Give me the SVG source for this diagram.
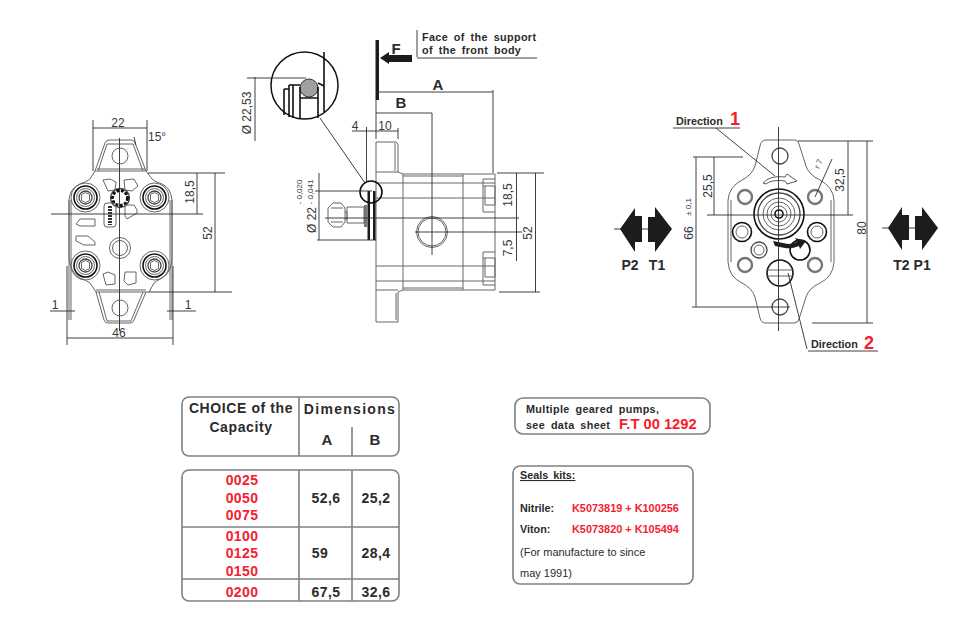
<svg xmlns="http://www.w3.org/2000/svg" xmlns:xlink="http://www.w3.org/1999/xlink" width="960" height="626" viewBox="0 0 960 626">
<style>
text{font-family:"Liberation Sans",Arial,sans-serif;fill:#2b2b2b}
.d{font-size:12px;fill:#33383f}
.b{font-weight:bold}
.r{fill:#f5202f;font-weight:bold}
.o{fill:none;stroke:#666;stroke-width:1}
.o2{fill:none;stroke:#444;stroke-width:1.3}
.h{fill:none;stroke:#777;stroke-width:2.4}
.l{fill:none;stroke:#2a2a2a;stroke-width:.9}
.k{fill:none;stroke:#111;stroke-width:1.6}
.t{fill:none;stroke:#808080;stroke-width:1.6}
.f{fill:#1c1c1c;stroke:none}
.tb{font-size:14px;font-weight:bold;text-anchor:middle;letter-spacing:.4px}
.tr{font-size:14px;font-weight:bold;text-anchor:middle;letter-spacing:.4px;fill:#f5202f}
.s{font-size:10.800px;font-weight:bold}
.w{font-size:10.800px;font-weight:bold;word-spacing:2.500px;letter-spacing:.35px}
.p{font-size:14px;font-weight:bold}
</style>
<defs>
<g id="bolt"><circle r="14.500" class="o"/><circle r="11.500" class="k"/><circle r="9" class="o"/><circle r="6.500" class="o2"/><path class="o" d="M-4-3 0-5 4-3V3L0 5-4 3Z"/></g>
</defs>

<g id="front-view">
<path class="o" d="M95 171 105 143Q106 140 109 140H131Q134 140 135 143L146 171"/>
<path class="o" d="M98 171 107 144H133L143 171M95 171H146M97 169H145"/>
<path class="o" d="M95 171 90 179Q86 182 80 184 70 188 69 200V258Q70 272 80 278 86 280 90 283L96 292H149L154 283Q158 280 162 278 172 272 172 258V200Q171 188 162 184 155 182 152 179L146 171"/>
<path class="o" d="M69 200V320M71 200V320M172 200V320M170 200V320"/>
<path class="o" d="M96 292 104 320Q105 323 108 323H130Q133 323 134 320L146 292M99 292 107 321H131L143 292M96 290H146"/>
<circle cx="120" cy="156" r="8" class="o"/><circle cx="120" cy="308" r="8" class="o"/>
<circle cx="120" cy="248" r="10.500" class="o"/><circle cx="120" cy="248" r="7.500" class="o"/>
<use xlink:href="#bolt" x="85.500" y="197.500"/><use xlink:href="#bolt" x="154.500" y="197.500"/>
<use xlink:href="#bolt" x="85.500" y="265.500"/><use xlink:href="#bolt" x="154.500" y="265.500"/>
<circle cx="120" cy="198" r="9.500" class="o2"/>
<circle cx="120" cy="198" r="7.500" fill="none" stroke="#111" stroke-width="3" stroke-dasharray="3 1.500"/>
<rect x="104" y="203" width="12" height="24" rx="3" class="o"/><path d="M110 206V225" stroke="#333" stroke-width="4" stroke-dasharray="2 1"/>
<path class="o" d="M103 180 110 179 116 182 115 190 108 191ZM124 180 134 179 138 186 132 191 125 190ZM125 272H136V283L128 285 124 281ZM103 274 108 272 115 275 115 284 106 285Z"/>
<path class="o" d="M76 224 80 219H95V226H80ZM76 236H88L95 242V245H84L76 241ZM125 205H134L137 210V213L127 219 125 216Z"/>
<path class="l" d="M119.500 138V331M51 214H203M93 120V171M147 120V171M93 128H147M134 137 136 145M148 173H225M149 292H232M197 173V214M215 173V292M50 311H75M167 311H196M67 266V345M173 266V345M67 338H173"/>
<text class="d" x="118" y="127" text-anchor="middle">22</text>
<text class="d" x="148" y="141">15°</text>
<text class="d" transform="translate(194 192) rotate(-90)" text-anchor="middle">18,5</text>
<text class="d" transform="translate(212 233) rotate(-90)" text-anchor="middle">52</text>
<text class="d" x="55" y="309" text-anchor="middle">1</text>
<text class="d" x="188" y="309" text-anchor="middle">1</text>
<text class="d" x="119" y="337" text-anchor="middle">46</text>
</g>

<g id="side-view">
<path class="o" d="M376 142H396L398 144V172L403 174H495V290H403L398 292V322H376Z"/>
<path class="o" d="M395 143V171M396 293V320M376 172H398M376 290H398M403 174V290M463 174V290M376 183H495M376 198H495M376 266H495M376 281H495M403 176H463M403 288H463"/>
<path class="o" d="M483 179H495M483 179V212H495M483 186H495V205H485V186M483 252H495M483 252V285H495M483 258H495V277H485V258"/>
<circle cx="432" cy="232" r="15.500" class="o"/><circle cx="432" cy="232" r="14" class="o"/>
<path class="f" d="M367.500 191H370V240H367.500ZM373 191H375.500V240H373Z"/>
<rect x="364" y="205" width="3.500" height="22" fill="#777"/>
<path class="o" d="M328 208 333 203H341L345 208V222L341 227H333L328 222ZM345 212H347V219H345M347 207H364V223H347ZM331 208H343M331 222H343"/>
<circle cx="371" cy="192" r="11" class="k" stroke-width="1"/>
<path class="f" d="M375.500 40H379V100H375.500ZM380 58 389 52V55H412V62H389V64Z"/>
<path class="l" d="M417 30V57M417 58H537M377 92H493M493 90V173M376 100V139M376 113H432M432 113V255M352 131H398M366.500 127V182M398 128V139M497 173H544M499 292H540M516.500 173V261M535.500 173V292M415 232H522M325 218H519M319 173V240M315 191H372M317 240H376"/>
<text x="422" y="41" class="w">Face of the support</text>
<text x="422" y="54" class="w">of the front body</text>
<text x="396" y="54" class="b" style="font-size:15px" text-anchor="middle">F</text>
<text x="438" y="90" class="b" style="font-size:15px" text-anchor="middle">A</text>
<text x="401" y="108" class="b" style="font-size:15px" text-anchor="middle">B</text>
<text class="d" x="355" y="130" text-anchor="middle">4</text>
<text class="d" x="385" y="130" text-anchor="middle">10</text>
<text class="d" transform="translate(512 195) rotate(-90)" text-anchor="middle">18,5</text>
<text class="d" transform="translate(512 248) rotate(-90)" text-anchor="middle">7,5</text>
<text class="d" transform="translate(532 233) rotate(-90)" text-anchor="middle">52</text>
<text class="d" transform="translate(316 220) rotate(-90)" text-anchor="middle">Ø 22</text>
<text class="d" style="font-size:8px" transform="translate(302 192) rotate(-90)" text-anchor="middle">- 0,020</text>
<text class="d" style="font-size:8px" transform="translate(313 192) rotate(-90)" text-anchor="middle">- 0,041</text>
</g>

<g id="seal-detail">
<circle cx="304.500" cy="85.500" r="33.500" fill="#fff" stroke="#111" stroke-width="1.500"/>
<circle cx="309" cy="88" r="9" fill="#a0a0a0" stroke="#333" stroke-width="1"/>
<path class="k" d="M284 89V115M289 85V117M293 85V118M300 87V119M318 87V118M324 52V112" stroke-width="1.200"/>
<path class="k" d="M284 89H289M289 85H300M300 98H318M318 83 324 86" stroke-width="1"/>
<path class="l" d="M247 78H306M255 77V141M320 118 365 183"/>
<text class="d" transform="translate(251 113) rotate(-90)" text-anchor="middle">Ø 22,53</text>
</g>

<g id="rear-view">
<path class="o" d="M760 146Q761 140 766 140H795Q798 140 799 144L806 166Q809 175 820 180 833 187 834 200V262Q833 277 820 283 809 288 806 297L799 319Q798 323 794 323H766Q761 323 760 318L755 297Q752 288 742 283 729 277 728 262V200Q729 187 742 180 752 175 755 166Z"/>
<path class="o" d="M731 200V262M831 200V262"/>
<circle cx="780" cy="156" r="8" class="o2"/><circle cx="780" cy="307" r="8" class="o2"/>
<circle cx="745" cy="197" r="7" class="h"/><circle cx="815" cy="197" r="7" class="h"/>
<circle cx="745" cy="265" r="7" class="h"/><circle cx="815" cy="265" r="7" class="h"/>
<circle cx="742" cy="232" r="9.500" class="k"/><circle cx="742" cy="232" r="6" class="o"/>
<circle cx="817" cy="232" r="9.500" class="k"/><circle cx="817" cy="232" r="6" class="o"/>
<circle cx="759" cy="250" r="8" class="o2"/><circle cx="759" cy="250" r="5" class="o"/>
<circle cx="779" cy="214" r="25" class="k"/><circle cx="779" cy="214" r="21" class="o2"/>
<circle cx="779" cy="214" r="16" class="o"/><circle cx="779" cy="214" r="12" class="o"/><circle cx="779" cy="214" r="8" class="o"/><circle cx="779" cy="214" r="4" class="k" stroke-width="1"/>
<circle cx="780" cy="273" r="13" class="k" stroke-width="1.800"/><path class="o" d="M767 270H793M767 276H793"/>
<circle cx="800" cy="250" r="10" class="k" stroke-width="1.500"/>
<path fill="#fff" stroke="#333" stroke-width=".8" d="M763 183Q770 175 785 177L787 174 797 181 787 184 785 181Q772 179 766 184Z"/>
<path class="f" d="M773 241 788 244Q795 244 797 241L795 238 806 241 800 249 799 246Q792 249 785 248L775 246Z"/>
<path class="l" d="M778.500 127V331M707 215H853M693 157H743M692 307H790M798 141H873M812 323H873M714 157V215M696 157V307M848 141V215M867 141V323M832 159 815 197M673 128H740M716 128 775 176M808 351H878M807 349 788 273"/>
<text class="s" x="676" y="125">Direction</text><text class="r" x="730" y="125" style="font-size:18px">1</text>
<text class="s" x="811" y="348">Direction</text><text class="r" x="864" y="349" style="font-size:18px">2</text>
<text class="d" transform="translate(712 186) rotate(-90)" text-anchor="middle">25,5</text>
<text class="d" transform="translate(693 233) rotate(-90)" text-anchor="middle">66</text>
<text class="d" style="font-size:8px" transform="translate(691 207) rotate(-90)" text-anchor="middle">± 0,1</text>
<text class="d" transform="translate(844 180) rotate(-90)" text-anchor="middle">32,5</text>
<text class="d" transform="translate(866 228) rotate(-90)" text-anchor="middle">80</text>
<text class="d" style="font-size:8px" transform="translate(821 165) rotate(-65)" text-anchor="middle">r 7</text>
</g>

<g id="port-left">
<path class="l" d="M614 229H650"/>
<path class="f" d="M620 229 635 208V216H642V242H635V252ZM672 229 655 207V217H648V242H655V252Z"/>
<text x="630" y="270" class="p" text-anchor="middle">P2</text>
<text x="657" y="270" class="p" text-anchor="middle">T1</text>
</g>
<g id="port-right">
<path class="l" d="M882 228H916"/>
<path class="f" d="M888 228 902 207V215H909V240H902V250ZM938 228 922 207V216H915V240H922V250Z"/>
<text x="912" y="270" class="p" text-anchor="middle">T2 P1</text>
</g>

<g id="table-header">
<rect x="182" y="397" width="217" height="59" rx="7" class="t"/>
<path class="t" d="M299 397V456"/><path class="t" d="M352 427V456" stroke-width="1"/>
<text x="241" y="413" class="b" style="font-size:14px;letter-spacing:.6px" text-anchor="middle">CHOICE of the</text>
<text x="241" y="432" class="b" style="font-size:14px;letter-spacing:.6px" text-anchor="middle">Capacity</text>
<text x="350" y="414" class="b" style="font-size:14px;letter-spacing:1.300px" text-anchor="middle">Dimensions</text>
<text x="327" y="445" class="b" style="font-size:15px" text-anchor="middle">A</text>
<text x="375" y="445" class="b" style="font-size:15px" text-anchor="middle">B</text>
</g>
<g id="table-body">
<rect x="182" y="470" width="217" height="131" rx="7" class="t"/>
<path class="t" d="M299 470V601M352 470V601"/>
<path class="t" d="M182 527H399M182 579H399" stroke-width="1.100"/>
<text class="tr" x="242" y="485">0025</text><text class="tr" x="242" y="503">0050</text><text class="tr" x="242" y="520">0075</text>
<text class="tr" x="242" y="541">0100</text><text class="tr" x="242" y="558">0125</text><text class="tr" x="242" y="576">0150</text>
<text class="tr" x="242" y="597">0200</text>
<text class="tb" x="326" y="503">52,6</text><text class="tb" x="376" y="503">25,2</text>
<text class="tb" x="320" y="558">59</text><text class="tb" x="376" y="558">28,4</text>
<text class="tb" x="326" y="597">67,5</text><text class="tb" x="376" y="597">32,6</text>
</g>

<g id="note-box">
<rect x="515" y="398" width="195" height="36" rx="8" class="t"/>
<text x="526" y="413" class="w">Multiple geared pumps,</text>
<text x="526" y="429" class="w">see data sheet</text>
<text x="619" y="429" class="r" style="font-size:14.700px">F.T 00 1292</text>
</g>

<g id="seals-box">
<rect x="513" y="466" width="180" height="118" rx="7" class="t"/>
<text x="520" y="479" class="s" style="word-spacing:2px;text-decoration:underline">Seals kits:</text>
<text x="520" y="512" class="s">Nitrile:</text>
<text x="572" y="512" class="r" style="font-size:10.900px">K5073819 + K100256</text>
<text x="520" y="533" class="s">Viton:</text>
<text x="572" y="533" class="r" style="font-size:10.900px">K5073820 + K105494</text>
<text x="520" y="556" style="font-size:11px">(For manufacture to since</text>
<text x="520" y="577" style="font-size:11px">may 1991)</text>
</g>
</svg>
